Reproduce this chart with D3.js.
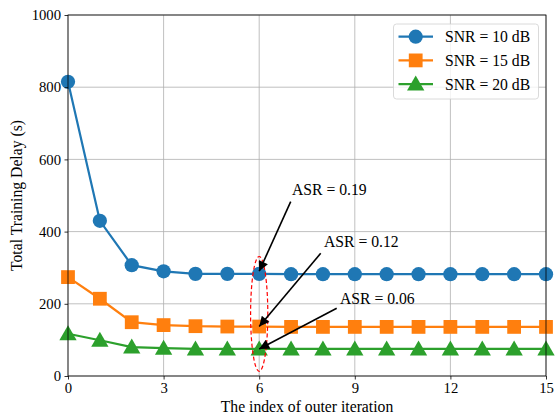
<!DOCTYPE html>
<html><head><meta charset="utf-8">
<script src="https://cdn.jsdelivr.net/npm/d3@7"></script>
<style>body{margin:0;background:#fff}svg{display:block}svg text{font-family:"Liberation Serif","Times New Roman",serif !important}</style>
</head><body>
<script>
const iterations = d3.range(0, 16);
const snr10 = [815, 430, 307, 290, 283, 283, 283, 282, 282, 282, 282, 282, 282, 282, 282, 282];
const snr15 = [274, 214, 149, 141, 138, 137, 137, 136, 136, 136, 136, 136, 136, 136, 136, 136];
const snr20 = [117, 99, 80, 77, 75, 75, 75, 75, 75, 75, 75, 75, 75, 75, 75, 75];
const seriesNames = ["SNR = 10 dB", "SNR = 15 dB", "SNR = 20 dB"];
const xTicks = [0, 3, 6, 9, 12, 15];
const yTicks = [0, 200, 400, 600, 800, 1000];
const annotations = [
  {label: "ASR = 0.19", x: 6, y: 282},
  {label: "ASR = 0.12", x: 6, y: 137},
  {label: "ASR = 0.06", x: 6, y: 75}
];

const W = 555, H = 417;
const m = {l: 68, r: 9, t: 15, b: 41};
const svg = d3.select("body").append("svg").attr("width", W).attr("height", H);
const x = d3.scaleLinear().domain([0, 15]).range([m.l, W - m.r]);
const y = d3.scaleLinear().domain([0, 1000]).range([H - m.b, m.t]);

const FS = 15.7, TFS = 14.7;

// grid
svg.append("g").selectAll("line").data(xTicks).join("line")
  .attr("x1", d => x(d)).attr("x2", d => x(d)).attr("y1", y(0)).attr("y2", y(1000))
  .attr("stroke", "#b0b0b0").attr("stroke-width", 0.8);
svg.append("g").selectAll("line").data(yTicks).join("line")
  .attr("y1", d => y(d)).attr("y2", d => y(d)).attr("x1", x(0)).attr("x2", x(15))
  .attr("stroke", "#b0b0b0").attr("stroke-width", 0.8);

const colors = ["#1f77b4", "#ff7f0e", "#2ca02c"];
const data = [snr10, snr15, snr20];
const symbols = [d3.symbolCircle, d3.symbolSquare, d3.symbolTriangle];
const sizes = [160, 190, 130];
const line = d3.line().x((d, i) => x(iterations[i])).y(d => y(d));

const plot = svg.append("g");
data.forEach((s, k) => {
  plot.append("path").datum(s).attr("d", line).attr("fill", "none")
    .attr("stroke", colors[k]).attr("stroke-width", 2.2);
  plot.selectAll(null).data(s).join("path")
    .attr("d", d3.symbol().type(symbols[k]).size(sizes[k]))
    .attr("transform", (d, i) => `translate(${x(iterations[i])},${y(d) + (k === 2 ? 1.5 : 0)})`)
    .attr("fill", colors[k]);
});

// arrow head
const defs = svg.append("defs");
defs.append("marker").attr("id", "ah").attr("viewBox", "0 0 10 10").attr("refX", 10).attr("refY", 5)
  .attr("markerWidth", 14).attr("markerHeight", 10).attr("markerUnits", "userSpaceOnUse").attr("orient", "auto")
  .append("path").attr("d", "M0,0 L10,5 L0,10 Z").attr("fill", "#000");

// ellipse
svg.append("ellipse").attr("cx", x(6)).attr("cy", y(172)).attr("rx", x(6.27) - x(6)).attr("ry", y(172) - y(331))
  .attr("fill", "none").attr("stroke", "#ff0000").attr("stroke-width", 1.2).attr("stroke-dasharray", "4,2.5");

const arrowTails = [[290.7, 201.7], [320.7, 253.3], [336.7, 308.3]];
annotations.forEach((a, i) => {
  svg.append("line").attr("x1", arrowTails[i][0]).attr("y1", arrowTails[i][1])
    .attr("x2", x(a.x)).attr("y2", y(a.y) + (i === 0 ? -3 : 0))
    .attr("stroke", "#000").attr("stroke-width", 1.6).attr("marker-end", "url(#ah)");
});
const textPos = [[292, 195], [324, 247], [340, 304]];
annotations.forEach((a, i) => {
  svg.append("text").attr("x", textPos[i][0]).attr("y", textPos[i][1]).attr("font-size", FS).text(a.label);
});

// axes
const xa = svg.append("g").attr("transform", `translate(0,${y(0)})`)
  .call(d3.axisBottom(x).tickValues(xTicks).tickSize(3.5).tickPadding(3.5).tickFormat(d3.format("d")));
const ya = svg.append("g").attr("transform", `translate(${x(0)},0)`)
  .call(d3.axisLeft(y).tickValues(yTicks).tickSize(3.5).tickPadding(3.5).tickFormat(d3.format("d")));
[xa, ya].forEach(g => {
  g.attr("font-family", null).attr("font-size", null);
  g.selectAll("text").attr("font-size", TFS).attr("fill", "#000");
  g.select(".domain").remove();
  g.selectAll(".tick line").attr("stroke", "#000").attr("stroke-width", 0.8);
});
svg.append("rect").attr("x", x(0)).attr("y", y(1000)).attr("width", x(15) - x(0)).attr("height", y(0) - y(1000))
  .attr("fill", "none").attr("stroke", "#000").attr("stroke-width", 0.8);

svg.append("text").attr("x", (x(0) + x(15)) / 2).attr("y", 412).attr("text-anchor", "middle")
  .attr("font-size", FS).text("The index of outer iteration");
svg.append("text").attr("transform", `translate(22,${(y(0) + y(1000)) / 2}) rotate(-90)`)
  .attr("text-anchor", "middle").attr("font-size", FS).text("Total Training Delay (s)");

// legend
const lg = svg.append("g");
lg.append("rect").attr("x", 393.5).attr("y", 24).attr("width", 145).attr("height", 75).attr("rx", 3)
  .attr("fill", "rgba(255,255,255,0.8)").attr("stroke", "#d0d0d0").attr("stroke-width", 0.8);
seriesNames.forEach((n, k) => {
  const cy = 36.7 + k * 23.7;
  lg.append("line").attr("x1", 398.5).attr("x2", 433).attr("y1", cy).attr("y2", cy)
    .attr("stroke", colors[k]).attr("stroke-width", 2.2);
  lg.append("path").attr("d", d3.symbol().type(symbols[k]).size(sizes[k]))
    .attr("transform", `translate(415.7,${cy + (k === 2 ? 1.5 : 0)})`).attr("fill", colors[k]);
  lg.append("text").attr("x", 445).attr("y", cy + 5.5).attr("font-size", FS).text(n);
});
</script>
</body></html>
